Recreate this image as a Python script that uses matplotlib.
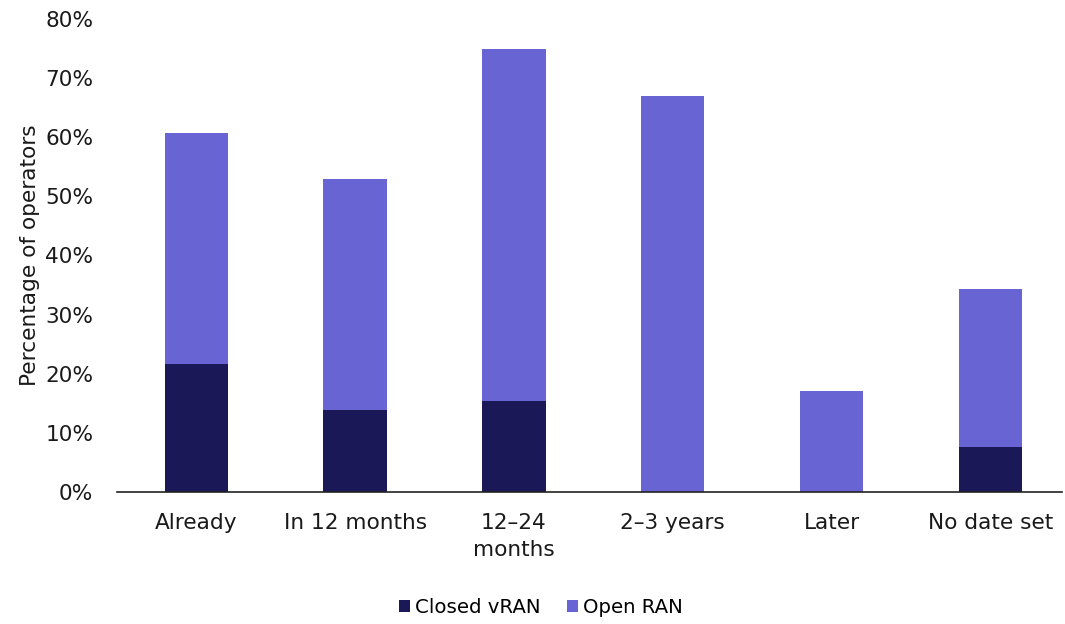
import matplotlib
matplotlib.use("Agg")
import matplotlib.pyplot as plt
from matplotlib.ticker import PercentFormatter

categories = ["Already", "In 12 months", "12\u201324\nmonths", "2\u20133 years", "Later", "No date set"]
closed_vran = [21.7, 13.9, 15.4, 0.0, 0.0, 7.6]
open_ran = [39.0, 39.1, 59.6, 67.0, 17.1, 26.7]

CLOSED_COLOR = "#1b1858"
OPEN_COLOR = "#6864d3"
TEXT_COLOR = "#1a1a1a"

plt.rcParams["font.family"] = ["DejaVu Sans"]

fig = plt.figure(figsize=(10.65, 6.24), dpi=100)
ax = fig.add_axes([0.1099, 0.2115, 0.887, 0.7581])

x = range(len(categories))
ax.bar(x, closed_vran, width=0.4, color=CLOSED_COLOR, label="Closed vRAN")
ax.bar(x, open_ran, width=0.4, bottom=closed_vran, color=OPEN_COLOR, label="Open RAN")

ax.set_xlim(-0.5, 5.45)
ax.set_ylim(0, 80)
ax.set_yticks(range(0, 81, 10))
ax.yaxis.set_major_formatter(PercentFormatter(decimals=0))
ax.set_xticks(list(x))
ax.set_xticklabels(categories, fontsize=15.6, color=TEXT_COLOR, linespacing=1.45)
ax.tick_params(axis="y", length=0, labelsize=15.6, labelcolor=TEXT_COLOR, pad=17)
ax.tick_params(axis="x", length=0, pad=15)

for side in ("top", "right", "left"):
    ax.spines[side].set_visible(False)
ax.spines["bottom"].set_color("#222222")
ax.spines["bottom"].set_linewidth(1.2)

ax.set_ylabel("Percentage of operators", fontsize=15.6, color=TEXT_COLOR, labelpad=4)

ax.legend(loc="center", bbox_to_anchor=(0.449, -0.245), ncol=2, frameon=False,
          fontsize=14.2, handlelength=0.56, handleheight=0.56, handletextpad=0.25,
          columnspacing=1.35)

fig.savefig("out.png", dpi=100)
